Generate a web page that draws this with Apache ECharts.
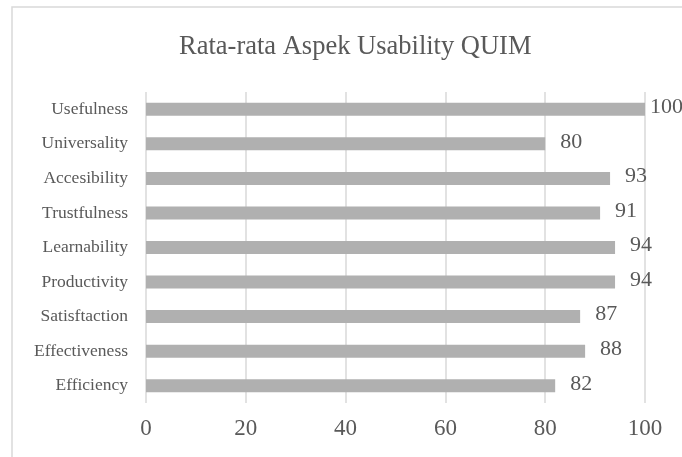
<!DOCTYPE html>
<html>
<head>
<meta charset="utf-8">
<script src="https://cdn.jsdelivr.net/npm/echarts@6/dist/echarts.min.js"></script>
<style>
  html, body { margin: 0; padding: 0; background: #fff; }
  #chart { width: 682px; height: 457px; }
</style>
</head>
<body>
<div id="chart"></div>
<script>
// data, top to bottom
const categories = ['Usefulness', 'Universality', 'Accesibility', 'Trustfulness', 'Learnability', 'Productivity', 'Satisftaction', 'Effectiveness', 'Efficiency'];
const values = [100, 80, 93, 91, 94, 94, 87, 88, 82];
const xTicks = [0, 20, 40, 60, 80, 100];

const serif = "'Liberation Serif', 'Times New Roman', serif";
const textColor = '#595959';

let myChart = echarts.init(document.getElementById('chart'));
let option = {
  backgroundColor: '#fff',
  animation: false,
  title: {
    text: 'Rata-rata Aspek Usability QUIM',
    left: 174,
    top: 29,
    textStyle: {
      fontFamily: serif,
      fontSize: 26.5,
      fontWeight: 'normal',
      color: textColor,
    },
  },
  graphic: [
    {
      // chart area border, right and bottom edges fall outside the picture
      type: 'rect',
      shape: { x: 12, y: 7, width: 700, height: 500 },
      style: { fill: 'none', stroke: '#d9d9d9', lineWidth: 1.5 },
      silent: true,
    },
  ],
  grid: {
    left: 146,
    right: 37,
    top: 92,
    bottom: 54,
  },
  xAxis: {
    type: 'value',
    min: xTicks[0],
    max: xTicks[xTicks.length - 1],
    interval: 20,
    axisLine: { show: false },
    axisTick: { show: false },
    splitLine: { lineStyle: { color: '#d9d9d9', width: 1.5 } },
    axisLabel: {
      margin: 14,
      fontFamily: serif,
      fontSize: 23,
      color: textColor,
    },
  },
  yAxis: {
    type: 'category',
    inverse: true,
    data: categories,
    axisLine: { show: false },
    axisTick: { show: false },
    axisLabel: {
      margin: 18,
      fontFamily: serif,
      fontSize: 17.5,
      color: textColor,
      padding: [0, 0, 6, 0],
    },
  },
  series: [
    {
      type: 'bar',
      barWidth: 13,
      data: values.map(v => (v >= 100 ? { value: v, label: { distance: 5 } } : v)),
      itemStyle: { color: '#b0b0b0' },
      label: {
        show: true,
        position: 'right',
        distance: 15,
        offset: [0, -2],
        fontFamily: serif,
        fontSize: 22,
        color: textColor,
      },
    },
  ],
};

myChart.setOption(option);
window.addEventListener('resize', function () {
  myChart.resize();
});
</script>
</body>
</html>
